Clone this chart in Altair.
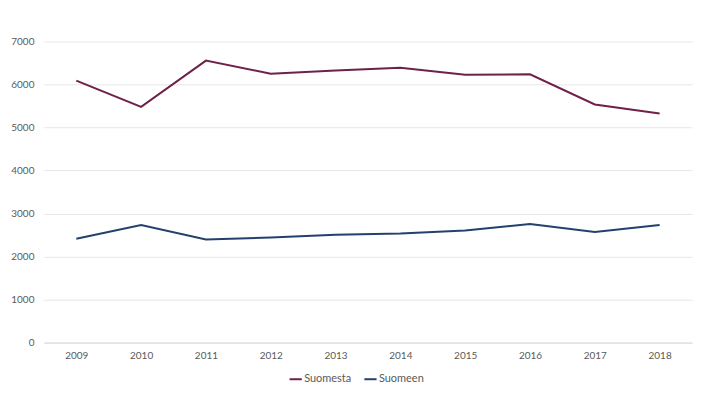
import altair as alt
import pandas as pd

years = ["2009", "2010", "2011", "2012", "2013", "2014", "2015", "2016", "2017", "2018"]
suomesta = [6090, 5480, 6555, 6250, 6325, 6390, 6225, 6235, 5535, 5325]
suomeen = [2415, 2735, 2395, 2445, 2505, 2535, 2605, 2755, 2570, 2735]
series = ["Suomesta", "Suomeen"]
colors = ["#6E2149", "#24406E"]

rows = []
for name, vals in zip(series, [suomesta, suomeen]):
    for y, v in zip(years, vals):
        rows.append({"Vuosi": y, "Arvo": v, "Sarja": name})
df = pd.DataFrame(rows)

FONT = "Lato"

chart = alt.Chart(df).mark_line(strokeWidth=2).encode(
    x=alt.X("Vuosi:N", sort=years, title=None,
            scale=alt.Scale(type="point", padding=0.5),
            axis=alt.Axis(labelAngle=0, ticks=False, domain=True, domainColor="#d9d9d9",
                          grid=False, labelPadding=8, labelFontSize=10, labelColor="#595959",
                          labelFont=FONT)),
    y=alt.Y("Arvo:Q", title=None,
            scale=alt.Scale(domain=[0, 7000], nice=False),
            axis=alt.Axis(values=[0, 1000, 2000, 3000, 4000, 5000, 6000, 7000], ticks=False,
                          domain=False, gridColor="#e6e6e6", labelPadding=10,
                          labelFontSize=10, labelColor="#595959", labelFont=FONT, format="d")),
    color=alt.Color("Sarja:N", title=None,
                    scale=alt.Scale(domain=series, range=colors),
                    legend=alt.Legend(orient="none", legendX=245, legendY=331,
                                      direction="horizontal", symbolType="stroke",
                                      symbolStrokeWidth=2, symbolSize=150, labelFontSize=11,
                                      labelColor="#595959", labelFont=FONT,
                                      columnPadding=8, symbolOffset=0, labelOffset=1)),
).properties(
    width=650, height=302,
    autosize=alt.AutoSizeParams(type="none"),
    padding={"left": 36, "top": 33, "right": 10, "bottom": 50},
).configure_view(stroke=None)

chart.save("out.html", embed_options={"renderer": "svg", "actions": False})
